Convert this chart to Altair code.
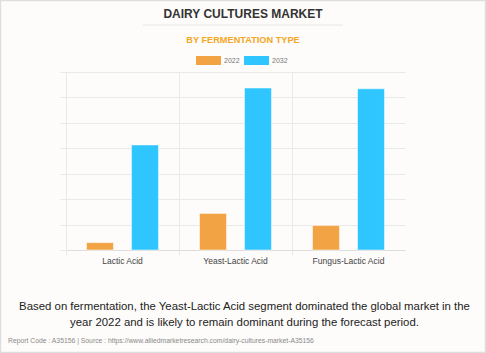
import altair as alt
import pandas as pd

categories = ["Lactic Acid", "Yeast-Lactic Acid", "Fungus-Lactic Acid"]
years = ["2022", "2032"]
values_2022 = [0.29, 1.44, 0.96]
values_2032 = [4.13, 6.37, 6.34]

title_text = "DAIRY CULTURES MARKET"
subtitle_text = "BY FERMENTATION TYPE"
summary_lines = [
    "Based on fermentation, the Yeast-Lactic Acid segment dominated the global market in the",
    "year 2022 and is likely to remain dominant during the forecast period.",
]
footer_text = "Report Code : A35156  |  Source : https://www.alliedmarketresearch.com/dairy-cultures-market-A35156"

rows = []
for c, a, b in zip(categories, values_2022, values_2032):
    rows.append({"segment": c, "year": "2022", "value": a})
    rows.append({"segment": c, "year": "2032", "value": b})
df = pd.DataFrame(rows)

orange = "#f2a445"
blue = "#2fc6ff"
grid_col = "#e9e9e9"
FONT = "Liberation Sans"

bars = alt.Chart(df).mark_bar(strokeWidth=1, strokeOpacity=0.5, stroke="#ffffff").encode(
    x=alt.X("segment:N", sort=categories,
            scale=alt.Scale(paddingInner=0, paddingOuter=0),
            axis=alt.Axis(title=None, labelAngle=0, grid=True, bandPosition=0,
                          gridColor=grid_col, tickColor=grid_col, tickSize=5,
                          domainColor="#dddddd", labelFont=FONT, labelFontSize=8.5,
                          labelColor="#444444", labelPadding=1)),
    xOffset=alt.XOffset("year:N", sort=years,
                        scale=alt.Scale(paddingInner=0.4, paddingOuter=0.456)),
    y=alt.Y("value:Q", scale=alt.Scale(domain=[0, 7], nice=False),
            axis=alt.Axis(title=None, labels=False, values=[0, 1, 2, 3, 4, 5, 6, 7],
                          grid=True, gridColor=grid_col, tickColor=grid_col, tickSize=6,
                          domainColor=grid_col)),
    color=alt.Color("year:N", sort=years,
                    scale=alt.Scale(domain=years, range=[orange, blue]),
                    legend=alt.Legend(title=None, orient="none", legendX=130, legendY=-24,
                                      direction="horizontal",
                                      symbolType="M-1,-0.36H1V0.36H-1Z", symbolSize=625,
                                      symbolStrokeWidth=0, symbolOpacity=1,
                                      labelFont=FONT, labelFontSize=7, labelColor="#777777",
                                      labelOffset=3, columnPadding=4, padding=0)),
)

one = pd.DataFrame({"k": [0]})
base = alt.Chart(one)

title = base.mark_text(font=FONT, fontSize=12, fontWeight="bold", color="#333333",
                       align="center", baseline="middle").encode(
    x=alt.value(177), y=alt.value(-58), text=alt.value(title_text))
underline = base.mark_rule(color="#e6e6e6", strokeWidth=1).encode(
    x=alt.value(77), x2=alt.value(277), y=alt.value(-47))
subtitle = base.mark_text(font=FONT, fontSize=9.2, fontWeight="bold", color="#f5a623",
                          align="center", baseline="middle").encode(
    x=alt.value(177), y=alt.value(-32), text=alt.value(subtitle_text))
summary = base.mark_text(font=FONT, fontSize=11.4, color="#222222", align="center",
                         baseline="middle", lineHeight=16).encode(
    x=alt.value(178.5), y=alt.value(235), text=alt.value(summary_lines))
footer = base.mark_text(font=FONT, fontSize=6.8, color="#8a8a8a", align="left",
                        baseline="middle").encode(
    x=alt.value(-58), y=alt.value(269), text=alt.value(footer_text))
border = base.mark_rect(fill=None, stroke="#dedede", strokeWidth=1.5).encode(
    x=alt.value(-65.5), x2=alt.value(419.5), y=alt.value(-71.5), y2=alt.value(280.5))

chart = alt.layer(bars, title, underline, subtitle, summary, footer, border).properties(
    width=339, height=178,
    autosize=alt.AutoSizeParams(type="none"),
    padding={"left": 66, "top": 72, "right": 81, "bottom": 103},
    background="#fdfcfa",
).configure_view(stroke=None)

chart.save("out.html", embed_options={"renderer": "svg", "actions": False})
